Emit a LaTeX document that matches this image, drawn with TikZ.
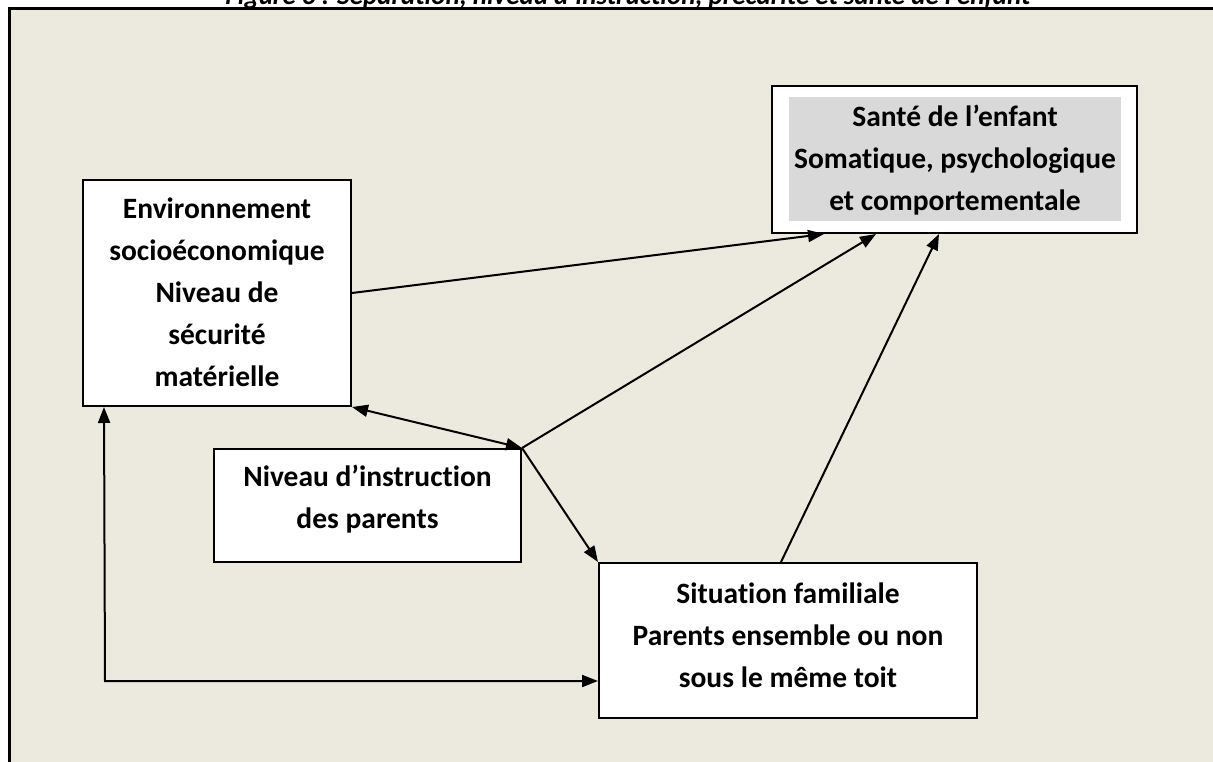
\documentclass[tikz,border=0pt]{standalone}
\usepackage{fontspec}
\setmainfont{Carlito}[Ligatures=NoCommon]
\usetikzlibrary{arrows.meta,calc}
\definecolor{paper}{RGB}{236,233,223}
\definecolor{shade}{RGB}{217,217,217}
\tikzset{
  box/.style={draw=black, fill=white, line width=2pt, inner sep=0pt},
  boxtext/.style={align=center, inner sep=0pt,
    font=\bfseries\fontsize{29.5}{42}\selectfont},
  tip/.style={Triangle[length=16pt,width=12pt]},
  link/.style={line width=2pt, -{Triangle[length=16pt,width=12pt]}},
  twoway/.style={line width=2pt, {Triangle[length=16pt,width=12pt]}-{Triangle[length=16pt,width=12pt]}}
}
\begin{document}
\begin{tikzpicture}[x=1pt,y=-1pt]
\clip (0,0) rectangle (1213,762);
\fill[white] (0,0) rectangle (1213,762);
% caption, cut by the frame's upper edge
\node[anchor=base, inner sep=0pt, font=\bfseries\itshape\fontsize{27}{27}\selectfont] (caption) at (628,5)
  {Figure 3 : Séparation, niveau d’instruction, précarité et santé de l’enfant};
% frame
\draw[line width=3pt, fill=paper] (9,9) rectangle (1230,780);

% boxes
\node[box, minimum width=365pt, minimum height=147pt] (sante) at (954.5,159.5) {};
\node[fill=shade, minimum width=332pt, minimum height=124pt, inner sep=0pt] (santebg) at (955,159) {};
\node[boxtext] (santetxt) at (955,160) {Santé de l’enfant\\Somatique, psychologique\\et comportementale};

\node[box, minimum width=268pt, minimum height=226pt] (env) at (217,293) {};
\node[boxtext] (envtxt) at (217,292) {Environnement\\socioéconomique\\Niveau de\\sécurité\\matérielle};

\node[box, minimum width=307pt, minimum height=113pt] (niveau) at (367.5,505.5) {};
\node[boxtext] (niveautxt) at (367.5,499) {Niveau d’instruction\\des parents};

\node[box, minimum width=378pt, minimum height=155pt] (famille) at (788,640.5) {};
\node[boxtext] (familletxt) at (788,635) {Situation familiale\\Parents ensemble ou non\\sous le même toit};

% connectors
\draw[link] (env.east) -- ([xshift=53pt]sante.south west);
\draw[link] (niveau.north east) -- ([xshift=105pt]sante.south west);
\draw[link] ([xshift=183pt]famille.north west) -- ([xshift=168pt]sante.south west);
\draw[twoway] (env.south east) -- (niveau.north east);
\draw[link] (niveau.north east) -- (famille.north west);
\coordinate (bend) at (105,681);
\draw[twoway] ([xshift=22pt]env.south west) -- (bend) -- (bend -| famille.west);
\end{tikzpicture}
\end{document}
